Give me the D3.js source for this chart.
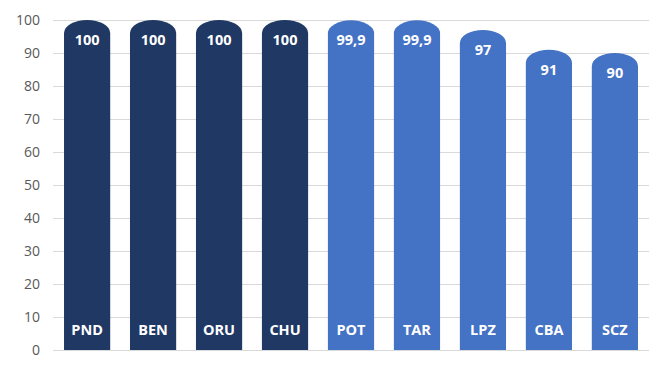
<!DOCTYPE html>
<html>
<head>
<meta charset="utf-8">
<script src="https://cdn.jsdelivr.net/npm/d3@7"></script>
<style>
  body { margin: 0; background: #ffffff; }
  svg { display: block; font-family: "Open Sans", "Liberation Sans", sans-serif; }
</style>
</head>
<body>
<div id="chart"></div>
<script>
// ============================================
// DATA
// ============================================
const categories = ["PND", "BEN", "ORU", "CHU", "POT", "TAR", "LPZ", "CBA", "SCZ"];
const values = [100, 100, 100, 100, 99.9, 99.9, 97, 91, 90];
const valueLabels = ["100", "100", "100", "100", "99,9", "99,9", "97", "91", "90"];
const groups = ["dark", "dark", "dark", "dark", "light", "light", "light", "light", "light"];
const yTicks = [0, 10, 20, 30, 40, 50, 60, 70, 80, 90, 100];

const COLORS = { dark: "#203864", light: "#4472c4" };

// ============================================
// LAYOUT
// ============================================
const width = 664, height = 367;
const plot = { left: 53, right: 649, top: 20, bottom: 350 };

const svg = d3.select("#chart").append("svg")
  .attr("width", width)
  .attr("height", height);

const x = d3.scaleBand()
  .domain(categories)
  .range([plot.left, plot.right])
  .paddingInner(0.3)
  .paddingOuter(0.167);

const y = d3.scaleLinear().domain([0, 100]).range([plot.bottom, plot.top]);

// gridlines
svg.append("g")
  .selectAll("line")
  .data(yTicks)
  .join("line")
  .attr("x1", plot.left)
  .attr("x2", plot.right)
  .attr("y1", d => y(d) + 0.5)
  .attr("y2", d => y(d) + 0.5)
  .attr("stroke", "#d9d9d9")
  .attr("stroke-width", 1);

// y axis labels
const yAxis = d3.axisLeft(y).tickValues(yTicks).tickSize(0).tickPadding(0);
svg.append("g")
  .attr("transform", `translate(40,0)`)
  .call(yAxis)
  .call(g => g.select(".domain").remove())
  .call(g => g.selectAll("text")
    .attr("fill", "#595959")
    .style("font-size", "14px")
    .style("font-family", "'Open Sans', sans-serif"));

// bars with rounded tops
const ry = 13;
function barPath(d, i) {
  const x0 = x(categories[i]);
  const w = x.bandwidth();
  const rx = w / 2;
  const top = y(d);
  const base = y(0);
  return `M${x0},${base} L${x0},${top + ry} A${rx},${ry} 0 0 1 ${x0 + w},${top + ry} L${x0 + w},${base} Z`;
}

svg.append("g")
  .selectAll("path")
  .data(values)
  .join("path")
  .attr("d", barPath)
  .attr("fill", (d, i) => COLORS[groups[i]]);

// value labels
svg.append("g")
  .selectAll("text")
  .data(values)
  .join("text")
  .attr("x", (d, i) => x(categories[i]) + x.bandwidth() / 2)
  .attr("y", d => y(d) + 25)
  .attr("text-anchor", "middle")
  .attr("fill", "#ffffff")
  .style("font-size", "14.5px")
  .style("font-weight", "bold")
  .text((d, i) => valueLabels[i]);

// category labels inside bars
svg.append("g")
  .selectAll("text")
  .data(categories)
  .join("text")
  .attr("x", d => x(d) + x.bandwidth() / 2)
  .attr("y", plot.bottom - 15)
  .attr("text-anchor", "middle")
  .attr("fill", "#ffffff")
  .style("font-size", "14.5px")
  .style("font-weight", "bold")
  .text(d => d);
</script>
</body>
</html>
